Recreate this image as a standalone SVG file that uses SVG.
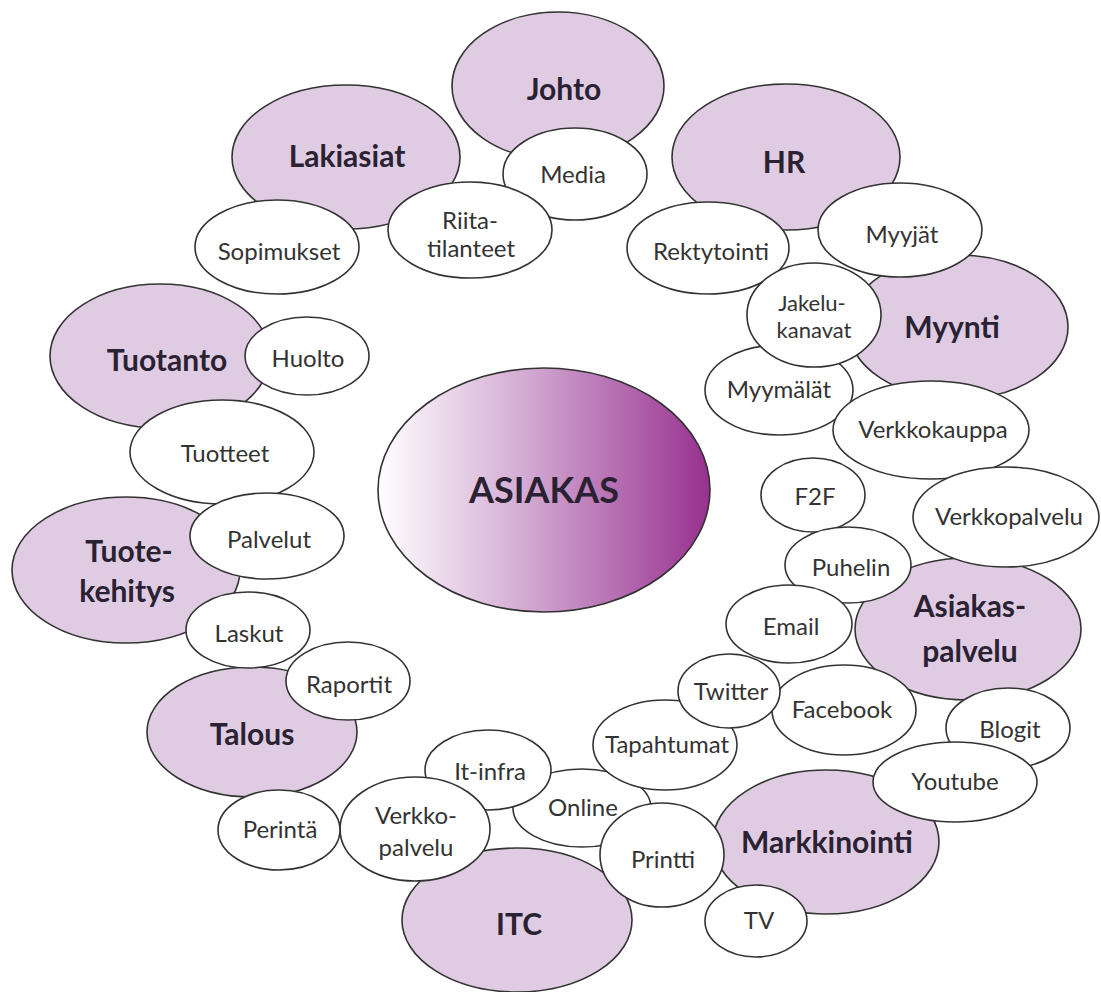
<svg xmlns="http://www.w3.org/2000/svg" width="1101" height="992" viewBox="0 0 1101 992">
<defs>
<linearGradient id="gAs" x1="0" y1="0" x2="1" y2="0">
<stop offset="0" stop-color="#ffffff"/>
<stop offset="0.45" stop-color="#d2a9d2"/>
<stop offset="1" stop-color="#98308f"/>
</linearGradient>
<style>
.p{fill:#dfcce2;stroke:#333;stroke-width:1.6}
.w{fill:#ffffff;stroke:#333;stroke-width:1.6}
.c{fill:url(#gAs);stroke:#333;stroke-width:1.6}
.tb{font-family:Lato,"Open Sans","Liberation Sans",sans-serif;font-weight:bold;font-size:30px;fill:#2a2233;text-anchor:middle}
.tr{font-family:Lato,"Open Sans","Liberation Sans",sans-serif;font-size:24px;fill:#333;text-anchor:middle}
.ts{font-size:22px}
.ta{font-family:Lato,"Open Sans","Liberation Sans",sans-serif;font-weight:bold;font-size:36px;fill:#2a2233;text-anchor:middle}
</style>
</defs>
<rect width="1101" height="992" fill="#ffffff"/>
<g id="connectors"></g>
<g id="asiakas"><ellipse class="c" cx="544" cy="490" rx="166" ry="122"/><text class="ta" x="544" y="503">ASIAKAS</text></g>
<g id="johto"><ellipse class="p" cx="558" cy="86" rx="106" ry="74"/><text class="tb" x="564" y="100">Johto</text></g>
<g id="lakiasiat"><ellipse class="p" cx="346" cy="157" rx="114" ry="72"/><text class="tb" x="347" y="167">Lakiasiat</text></g>
<g id="hr"><ellipse class="p" cx="786" cy="157" rx="114" ry="73"/><text class="tb" x="784" y="173">HR</text></g>
<g id="myynti"><ellipse class="p" cx="958" cy="327" rx="110" ry="72"/><text class="tb" x="952" y="338">Myynti</text></g>
<g id="tuotanto"><ellipse class="p" cx="160" cy="356" rx="110" ry="72"/><text class="tb" x="167" y="371">Tuotanto</text></g>
<g id="tuotekehitys"><ellipse class="p" cx="126" cy="570" rx="114" ry="73"/><text class="tb" x="129" y="562">Tuote-</text><text class="tb" x="127" y="602">kehitys</text></g>
<g id="talous"><ellipse class="p" cx="252" cy="732" rx="105" ry="65"/><text class="tb" x="252" y="745">Talous</text></g>
<g id="itc"><ellipse class="p" cx="517" cy="920" rx="115" ry="72"/><text class="tb" x="519" y="935">ITC</text></g>
<g id="markkinointi"><ellipse class="p" cx="826" cy="842" rx="113" ry="72"/><text class="tb" x="827" y="853">Markkinointi</text></g>
<g id="asiakaspalvelu"><ellipse class="p" cx="968" cy="629" rx="113" ry="71"/><text class="tb" x="970" y="617">Asiakas-</text><text class="tb" x="970" y="662">palvelu</text></g>

<g id="media"><ellipse class="w" cx="575" cy="174" rx="72" ry="46"/><text class="tr" x="573" y="183">Media</text></g>
<g id="riitatilanteet"><ellipse class="w" cx="470" cy="230" rx="82" ry="48"/><text class="tr" x="470" y="229">Riita-</text><text class="tr" x="471" y="257">tilanteet</text></g>
<g id="sopimukset"><ellipse class="w" cx="277" cy="247" rx="82" ry="47"/><text class="tr" x="279" y="260">Sopimukset</text></g>
<g id="rektytointi"><ellipse class="w" cx="708" cy="248" rx="81" ry="46"/><text class="tr" x="711" y="260">Rektytointi</text></g>
<g id="myyjat"><ellipse class="w" cx="900" cy="230" rx="82" ry="47"/><text class="tr" x="902" y="243">Myyjät</text></g>
<g id="myymalat"><ellipse class="w" cx="779" cy="390" rx="74" ry="45"/><text class="tr" x="779" y="398">Myymälät</text></g>
<g id="jakelukanavat"><ellipse class="w" cx="814" cy="315" rx="67" ry="52"/><text class="tr ts" x="812" y="311">Jakelu-</text><text class="tr ts" x="814" y="338">kanavat</text></g>
<g id="verkkokauppa"><ellipse class="w" cx="931" cy="430" rx="98" ry="49"/><text class="tr" x="933" y="438">Verkkokauppa</text></g>
<g id="verkkopalvelu1"><ellipse class="w" cx="1006" cy="517" rx="93" ry="50"/><text class="tr" x="1009" y="525">Verkkopalvelu</text></g>
<g id="f2f"><ellipse class="w" cx="813" cy="495" rx="52" ry="37"/><text class="tr" x="815" y="505">F2F</text></g>
<g id="puhelin"><ellipse class="w" cx="848" cy="565" rx="63" ry="38"/><text class="tr" x="851" y="576">Puhelin</text></g>
<g id="email"><ellipse class="w" cx="789" cy="624" rx="63" ry="39"/><text class="tr" x="791" y="635">Email</text></g>
<g id="blogit"><ellipse class="w" cx="1008" cy="728" rx="62" ry="40"/><text class="tr" x="1010" y="738">Blogit</text></g>
<g id="facebook"><ellipse class="w" cx="844" cy="710" rx="72" ry="45"/><text class="tr" x="842" y="718">Facebook</text></g>
<g id="youtube"><ellipse class="w" cx="955" cy="782" rx="82" ry="40"/><text class="tr" x="955" y="790">Youtube</text></g>
<g id="online"><ellipse class="w" cx="582" cy="808" rx="69" ry="39"/><text class="tr" x="583" y="816">Online</text></g>
<g id="tapahtumat"><ellipse class="w" cx="665" cy="745" rx="72" ry="45"/><text class="tr" x="667" y="753">Tapahtumat</text></g>
<g id="twitter"><ellipse class="w" cx="729" cy="691" rx="51" ry="37"/><text class="tr" x="731" y="700">Twitter</text></g>
<g id="printti"><ellipse class="w" cx="662" cy="855" rx="62" ry="52"/><text class="tr" x="663" y="868">Printti</text></g>
<g id="tv"><ellipse class="w" cx="756" cy="921" rx="51" ry="36"/><text class="tr" x="759" y="929">TV</text></g>
<g id="itinfra"><ellipse class="w" cx="488" cy="770" rx="63" ry="40"/><text class="tr" x="490" y="780">It-infra</text></g>
<g id="verkkopalvelu2"><ellipse class="w" cx="415" cy="829" rx="75" ry="52"/><text class="tr" x="416" y="824">Verkko-</text><text class="tr" x="416" y="856">palvelu</text></g>
<g id="perinta"><ellipse class="w" cx="279" cy="830" rx="61" ry="40"/><text class="tr" x="280" y="838">Perintä</text></g>
<g id="huolto"><ellipse class="w" cx="307" cy="356" rx="62" ry="39"/><text class="tr" x="308" y="367">Huolto</text></g>
<g id="tuotteet"><ellipse class="w" cx="222" cy="452" rx="92" ry="52"/><text class="tr" x="225" y="462">Tuotteet</text></g>
<g id="palvelut"><ellipse class="w" cx="267" cy="536" rx="77" ry="43"/><text class="tr" x="269" y="548">Palvelut</text></g>
<g id="laskut"><ellipse class="w" cx="248" cy="630" rx="62" ry="38"/><text class="tr" x="249" y="642">Laskut</text></g>
<g id="raportit"><ellipse class="w" cx="348" cy="681" rx="62" ry="39"/><text class="tr" x="349" y="693">Raportit</text></g>
</svg>
